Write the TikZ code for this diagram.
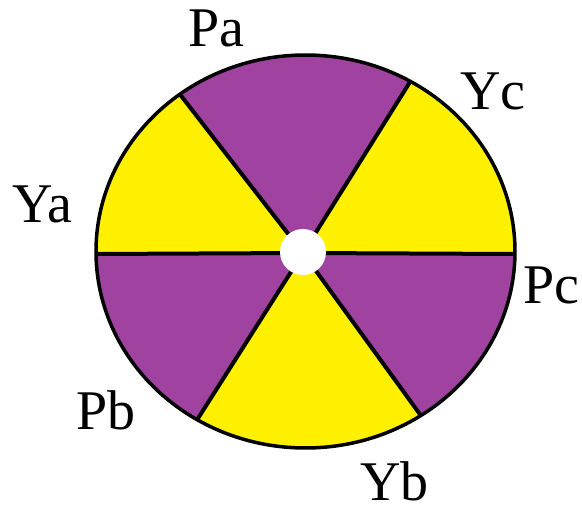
\documentclass[tikz,border=0pt]{standalone}
\usepackage{fontspec}
\setmainfont{Liberation Serif}
\usetikzlibrary{calc}
\definecolor{sunyellow}{RGB}{255,240,0}
\definecolor{plum}{RGB}{160,66,160}
\begin{document}
\begin{tikzpicture}[x=1pt,y=-1pt,
  lbl/.style={anchor=base west,inner sep=0pt,font=\fontsize{56}{60}\selectfont},
  divider/.style={line width=4pt,black},
  rim/.style={line width=3.5pt,black}]
\useasboundingbox (0,0) rectangle (582,513);
\coordinate (O) at (305.5,251.5);
\coordinate (C) at (303,253);
\coordinate (TL) at (182,97);
\coordinate (TR) at (410,82);
\coordinate (BR) at (419,413);
\coordinate (BL) at (197,420);
\coordinate (L) at (96,254);
\coordinate (R) at (515,254);
\begin{scope}
  \clip (O) ellipse [x radius=209.5, y radius=196.5];
  \fill[sunyellow] (O) ellipse [x radius=209.5, y radius=196.5];
  \fill[plum] (C) -- ($(C)!3!(TL)$) -- ($(C)!3!(TR)$) -- cycle;
  \fill[plum] (C) -- ($(C)!3!(L)$) -- ($(C)!3!(BL)$) -- cycle;
  \fill[plum] (C) -- ($(C)!3!(R)$) -- ($(C)!3!(BR)$) -- cycle;
  \foreach \p in {TL,TR,BR,BL,L,R}
    \draw[divider] (C) -- ($(C)!2!(\p)$);
\end{scope}
\draw[rim] (O) ellipse [x radius=209.5, y radius=196.5];
\fill[white] (303,252) circle [radius=23];
\node[lbl] (Pa) at (188,47) {Pa};
\node[lbl] (Yc) at (460,110) {Yc};
\node[lbl] (Ya) at (12,223) {Ya};
\node[lbl] (Pc) at (523,304) {Pc};
\node[lbl] (Pb) at (76,430) {Pb};
\node[lbl] (Yb) at (360,501) {Yb};
\end{tikzpicture}
\end{document}
